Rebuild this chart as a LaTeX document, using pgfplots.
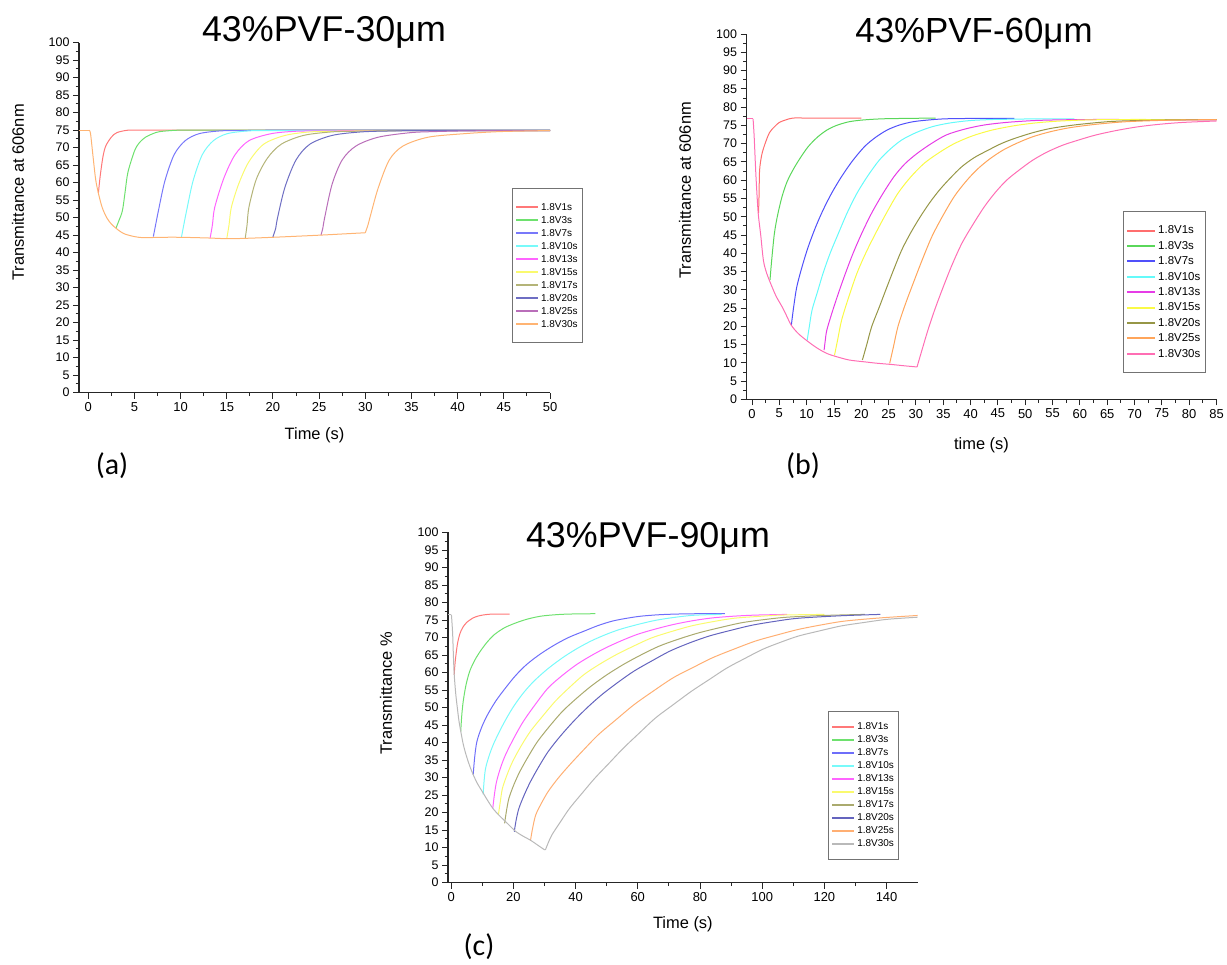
\documentclass[border=0pt]{standalone}
\usepackage{pgfplots}
\pgfplotsset{compat=1.18}
\usepackage{fontspec}
\setmainfont{Liberation Sans}
\newfontfamily\calfont{Carlito}
\newcommand{\fsz}[1]{\fontsize{#1}{#1}\selectfont}
% panel (a)
\definecolor{aR}{RGB}{255,120,120}\definecolor{aG}{RGB}{110,225,110}
\definecolor{aB}{RGB}{120,120,250}\definecolor{aC}{RGB}{120,250,250}
\definecolor{aM}{RGB}{255,100,255}\definecolor{aY}{RGB}{250,250,110}
\definecolor{aO}{RGB}{180,180,120}\definecolor{aN}{RGB}{110,110,195}
\definecolor{aP}{RGB}{185,110,185}\definecolor{aOr}{RGB}{255,180,115}
% panel (b)
\definecolor{bR}{RGB}{255,110,110}\definecolor{bG}{RGB}{90,215,90}
\definecolor{bB}{RGB}{80,80,250}\definecolor{bC}{RGB}{100,250,250}
\definecolor{bM}{RGB}{230,60,230}\definecolor{bY}{RGB}{250,250,70}
\definecolor{bO}{RGB}{150,150,70}\definecolor{bOr}{RGB}{255,165,90}
\definecolor{bP}{RGB}{255,110,180}
% panel (c)
\definecolor{cR}{RGB}{255,120,120}\definecolor{cG}{RGB}{110,225,110}
\definecolor{cB}{RGB}{110,110,250}\definecolor{cC}{RGB}{120,250,250}
\definecolor{cM}{RGB}{255,100,255}\definecolor{cY}{RGB}{250,250,110}
\definecolor{cO}{RGB}{170,170,110}\definecolor{cN}{RGB}{100,100,190}
\definecolor{cOr}{RGB}{255,175,115}\definecolor{cGr}{RGB}{185,185,185}
\pgfplotsset{
  panel/.style={
    scale only axis,
    axis lines=left,
    axis line style={-, line width=1.1bp, black!85},
    tick align=outside,
    major tick length=6bp,
    minor tick length=3.5bp,
    every tick/.style={black!85, line width=0.9bp},
    ymin=0, ymax=100, ytick={0,5,...,100}, minor y tick num=1,
    minor x tick num=1,
    /pgf/number format/assume math mode=true,
    xticklabel style={font=\fsz{13}},
    yticklabel style={font=\fsz{12.5}},
    label style={font=\fsz{16.5}},
    every axis plot/.append style={line width=1bp, line join=round},
    legend cell align=left,
    legend style={draw=black!55, line width=1bp, anchor=north west, inner xsep=3bp},
  },
  legA/.style={
    legend image code/.code={\draw[##1, line width=1.8bp] (0bp,0bp) -- (22bp,0bp);},
    legend style={font=\fsz{10}, inner ysep=12bp,
      nodes={text height=7.5bp, text depth=1.5bp, inner ysep=2bp, inner xsep=2bp}},
  },
  legB/.style={
    legend image code/.code={\draw[##1, line width=2bp] (0bp,0bp) -- (28bp,0bp);},
    legend style={font=\fsz{11.5}, inner ysep=11.3bp,
      nodes={text height=8.5bp, text depth=1.9bp, inner ysep=2.5bp, inner xsep=2bp}},
  },
}
\begin{document}
\begin{tikzpicture}
\path[use as bounding box] (0,0) rectangle (1227bp,965bp);
% ---------------- (a) ----------------
\begin{axis}[panel, legA,
  at={(79bp,572.3bp)}, anchor=south west, width=471bp, height=350bp,
  xmin=-1, xmax=50, xtick={0,5,...,50},
  xlabel={Time (s)}, ylabel={Transmittance at 606nm},
  xlabel style={at={(axis description cs:0.5,-0.121)}, anchor=center},
  ylabel style={at={(axis description cs:-0.1295,0.572)}, anchor=center},
  legend style={at={(axis description cs:0.9187,0.584)}}]
\addplot[aR, smooth] coordinates {(1.1,57) (1.3,62) (1.6,67.5) (1.9,70.5) (2.5,73) (3.1,74.3) (4.3,75) (6,75) (9,75) (14,75) (22,75) (32,75) (50,75)};
\addlegendentry{1.8V1s}
\addplot[aG, smooth] coordinates {(3,47) (3.3,49) (3.7,52) (4,57.5) (4.3,63) (5,69) (5.5,71.3) (6.2,73) (7,74) (7.75,74.6) (9.7,75) (12,75) (16,75) (22,75) (32,75) (50,75)};
\addlegendentry{1.8V3s}
\addplot[aB, smooth] coordinates {(7.05,44.6) (7.3,48) (7.6,52) (8.3,60.5) (9.3,68) (10.5,72) (12,74) (14.3,74.8) (17,74.9) (20,75) (25,75) (32,75) (40,75) (50,75)};
\addlegendentry{1.8V7s}
\addplot[aC, smooth] coordinates {(10.1,44.5) (10.35,48) (10.65,52) (11.35,60.5) (12.35,68) (13.55,72) (15.05,74) (17.35,74.8) (20,74.9) (23,74.9) (28,74.9) (35,74.9) (42,74.9) (50,74.9)};
\addlegendentry{1.8V10s}
\addplot[aM, smooth] coordinates {(13.2,44.2) (13.45,48) (13.7,53) (14.7,61.4) (15.9,68) (17.4,72) (19.8,74) (22.5,74.7) (25.5,74.8) (30,74.9) (35,74.9) (42,74.9) (50,74.9)};
\addlegendentry{1.8V13s}
\addplot[aY, smooth] coordinates {(15,44) (15.25,48) (15.5,53) (16.3,59.7) (17.4,66) (19,71) (21.3,73.5) (24,74.5) (27,74.7) (30,74.8) (35,74.9) (42,74.9) (50,74.9)};
\addlegendentry{1.8V15s}
\addplot[aO, smooth] coordinates {(17,44.1) (17.2,48) (17.4,53) (18.2,61) (19.4,67) (20.9,71) (23.3,73.5) (26.3,74.5) (29,74.7) (32,74.8) (36,74.9) (42,74.9) (50,74.9)};
\addlegendentry{1.8V17s}
\addplot[aN, smooth] coordinates {(20,44.5) (20.3,47) (20.5,50) (21.3,58.7) (22.5,66.5) (24,71) (26.4,73.5) (29.5,74.5) (33,74.8) (37,74.9) (43,74.9) (50,74.9)};
\addlegendentry{1.8V20s}
\addplot[aP, smooth] coordinates {(25.2,45) (25.4,47) (25.6,50) (26.4,59.5) (27.5,66.5) (29,70.5) (31.4,73) (34.9,74.3) (37.5,74.6) (40.7,74.8) (45,74.9) (50,74.9)};
\addlegendentry{1.8V25s}
\addplot[aOr, smooth] coordinates {(30,45.7) (30.3,48) (30.6,51) (31.4,58.5) (32.6,66.5) (34.1,70.5) (36.8,73) (40.7,74) (44.6,74.6) (50,74.9)};
\addlegendentry{1.8V30s}
\addplot[aOr, forget plot] coordinates {(-1,75) (0.1,75)};
\addplot[aOr, smooth, forget plot] coordinates {(0.1,75) (0.25,74) (0.5,68) (0.8,61) (1.1,57) (1.5,53) (2,50) (2.5,48.2) (3,47) (3.5,46) (4,45.3) (5,44.6) (6,44.3) (8,44.4) (10,44.4) (13,44.2) (15,44.0) (17,44.1) (20,44.4) (25,45.0) (30,45.7)};
\end{axis}
% ---------------- (b) ----------------
\begin{axis}[panel, legB,
  at={(746.5bp,565.5bp)}, anchor=south west, width=470bp, height=365.5bp,
  xmin=-1, xmax=85, xtick={0,5,...,85},
  xlabel={time (s)}, ylabel={Transmittance at 606nm},
  xlabel style={at={(axis description cs:0.5,-0.1245)}, anchor=center},
  ylabel style={at={(axis description cs:-0.131,0.572)}, anchor=center},
  legend style={at={(axis description cs:0.8004,0.5157)}}]
\addplot[bR, smooth] coordinates {(1.2,51) (1.3,56) (1.4,62.8) (1.8,67) (2.4,70) (3.2,73) (4.1,74.6) (5,75.8) (6.2,76.5) (7.5,77) (10,77) (14,77) (20,77)};
\addlegendentry{1.8V1s}
\addplot[bG, smooth] coordinates {(3.3,32.7) (3.6,38) (4.1,45.4) (4.7,50.5) (5.5,55.5) (6.4,59.5) (7.5,62.8) (8.8,66) (10.3,69.2) (12,71.8) (13.7,73.7) (15.5,75) (17.8,76) (20.5,76.5) (24,76.8) (28,76.9) (33.6,77)};
\addlegendentry{1.8V3s}
\addplot[bB, smooth] coordinates {(7.2,20.3) (7.6,25) (8.2,30.8) (9.2,36.5) (10.3,41.8) (11.6,47) (13,51.8) (14.6,56.5) (16.4,61) (18.4,65.3) (20.6,69.2) (22.6,71.7) (24.7,73.7) (27,75.1) (29.5,76) (32.5,76.5) (35.6,76.8) (41,76.9) (48,76.9)};
\addlegendentry{1.8V7s}
\addplot[bC, smooth] coordinates {(10.1,16.2) (10.5,20) (11,24.5) (12,29.5) (13,34.5) (14.3,40) (15.8,45.4) (17.4,51) (19.2,56.4) (21.2,61.2) (23.3,65.5) (25.3,68.5) (27.4,71) (30,73) (32.9,74.6) (36,75.6) (39.8,76.3) (44,76.6) (48,76.7) (53,76.8) (59,76.8)};
\addlegendentry{1.8V10s}
\addplot[bM, smooth] coordinates {(13.2,13.5) (13.4,16) (13.7,19) (14.7,24) (15.8,29) (17.1,34.5) (18.5,40) (20.1,45.5) (21.9,51) (23.9,56.2) (26,61) (28,64.5) (30.2,67.3) (32.8,70) (35.6,72.4) (39,74) (42.5,75.1) (46.5,75.8) (51.4,76.3) (56,76.5) (61.7,76.6) (68,76.6) (76,76.5) (85,76.5)};
\addlegendentry{1.8V13s}
\addplot[bY, smooth] coordinates {(15.1,12.1) (15.7,16.5) (16.4,21.7) (17.7,28) (19.2,34.5) (20.8,40) (22.6,45.4) (24.6,51) (26.7,56.4) (29,60.8) (31.5,64.6) (34.2,67.5) (37,70) (40.3,72.1) (43.9,73.7) (48,74.9) (52.1,75.7) (56.5,76.2) (61.7,76.5) (68,76.6) (76,76.6) (85,76.6)};
\addlegendentry{1.8V15s}
\addplot[bO, smooth] coordinates {(20.2,10.8) (21,15) (21.9,19.9) (23.3,25.3) (24.7,30.8) (26,35.8) (27.4,40.9) (29,45.5) (30.8,50) (32.5,53.8) (34.3,57.3) (36.3,60.6) (38.4,63.7) (40.7,66.2) (43.2,68.2) (45.6,70) (48,71.4) (51.4,73) (54.8,74.2) (59.5,75.2) (65.1,76) (70,76.3) (77,76.5) (85,76.6)};
\addlegendentry{1.8V20s}
\addplot[bOr, smooth] coordinates {(25.2,9.9) (25.9,14.5) (26.7,19.9) (28,25.8) (29.5,31.8) (31.1,38) (32.9,44.5) (34.9,50.2) (37,55.5) (39,59.4) (41.1,62.8) (43.4,65.7) (45.9,68.2) (48.6,70.2) (51.4,71.9) (54.7,73.3) (58.3,74.4) (63,75.3) (68.5,76) (76,76.4) (85,76.6)};
\addlegendentry{1.8V25s}
\addplot[bP, smooth] coordinates {(30.2,8.9) (31.2,14) (32.2,19) (33.5,24.8) (35,30.8) (36.6,36.8) (38.4,42.7) (40.4,47.8) (42.5,52.7) (44.5,56.6) (46.6,60) (49,62.9) (51.4,65.5) (54,67.7) (56.9,69.6) (60,71.1) (63,72.4) (66.7,73.6) (70.6,74.6) (74.6,75.3) (78.8,75.8) (85,76.2)};
\addlegendentry{1.8V30s}
\addplot[bP, forget plot] coordinates {(-1,76.8) (0.2,76.8)};
\addplot[bP, smooth, forget plot] coordinates {(0.2,76.8) (0.4,72) (0.7,62) (1,54) (1.2,50) (1.6,45) (2.1,38) (2.7,34.5) (3.4,31.8) (4.4,28.3) (5.5,25.4) (6.3,23) (7.2,20.3) (8.5,18) (10.3,15.8) (12,14) (13.7,12.6) (15.5,11.7) (17.8,10.8) (20.6,10.3) (23,9.9) (25.4,9.6) (28,9.2) (30.2,8.9)};
\end{axis}
% ---------------- (c) ----------------
\begin{axis}[panel, legA,
  at={(448bp,82.5bp)}, anchor=south west, width=469.7bp, height=350bp,
  xmin=-1, xmax=150, xtick={0,20,...,140},
  xlabel={Time (s)}, ylabel={Transmittance \%},
  xlabel style={at={(axis description cs:0.5,-0.12)}, anchor=center},
  ylabel style={at={(axis description cs:-0.132,0.541)}, anchor=center},
  legend style={at={(axis description cs:0.809,0.491)}, inner ysep=9.3bp}]
\addplot[cR, smooth] coordinates {(1,59.4) (1.3,63) (2,68) (2.8,71) (3.7,72.8) (5,74.3) (7.1,75.6) (9,76.2) (11.7,76.6) (15,76.7) (18.8,76.7)};
\addlegendentry{1.8V1s}
\addplot[cG, smooth] coordinates {(3.1,43.2) (3.4,47.5) (3.9,51.8) (4.8,56.5) (6,60.4) (7.6,63.5) (9.4,66.1) (11.6,68.7) (14,70.9) (17.2,72.8) (20.9,74.2) (24.7,75.3) (28.9,76.1) (33.5,76.5) (38.1,76.7) (46.4,76.8)};
\addlegendentry{1.8V3s}
\addplot[cB, smooth] coordinates {(7.1,30.8) (7.6,36) (8.3,40.3) (9.8,44.3) (11.7,47.9) (14.4,51.9) (17.5,55.6) (20.7,59.1) (24.3,62.3) (28.7,65.3) (33.5,68) (38,70.1) (42.7,71.8) (47.2,73.4) (51.9,74.7) (56.5,75.5) (61.1,76.1) (66.8,76.5) (72.6,76.7) (80,76.8) (88,76.8)};
\addlegendentry{1.8V7s}
\addplot[cC, smooth] coordinates {(10.3,25.2) (10.6,29) (11.1,32.7) (12.4,36.7) (14,40.3) (16.8,45.3) (19.8,49.9) (23,53.9) (26.6,57.5) (31,61) (35.8,64.2) (40.4,66.8) (45,69) (49.6,70.8) (54.2,72.3) (59.9,73.7) (65.7,74.9) (71.4,75.7) (77.2,76.3) (82,76.5) (87,76.6)};
\addlegendentry{1.8V10s}
\addplot[cM, smooth] coordinates {(13.4,21.2) (13.9,25) (14.6,28.8) (15.9,32.8) (17.5,36.5) (20.2,41.3) (23.2,46) (27,50.8) (31.2,55.6) (35.8,59.2) (40.4,62.3) (45,64.8) (49.6,67) (54.8,69.1) (59.9,70.9) (65.6,72.4) (71.4,73.7) (77.7,74.8) (84,75.6) (91,76.1) (97.9,76.4) (108,76.6)};
\addlegendentry{1.8V13s}
\addplot[cY, smooth] coordinates {(15.2,19.3) (15.8,23) (16.5,26.9) (18,30.8) (19.8,34.6) (22.5,39) (25.5,43.2) (29.4,47.5) (33.5,51.8) (38,55.7) (42.7,59.4) (47.8,62.4) (53.1,65.1) (58.8,67.6) (64.5,69.9) (70.8,71.7) (77.2,73.3) (84,74.5) (91,75.5) (98.5,76) (105.9,76.4) (120,76.6)};
\addlegendentry{1.8V15s}
\addplot[cO, smooth] coordinates {(17.2,16.9) (17.8,20.5) (18.6,24.1) (20.2,28) (22.1,31.7) (24.8,36) (27.8,40.3) (31.7,44.7) (35.8,48.9) (40.3,52.6) (45,56.1) (50,59.3) (55.4,62.3) (61,65) (66.8,67.5) (73,69.5) (79.5,71.3) (86.3,72.8) (93.3,74.2) (100.5,75.1) (108,75.8) (120,76.3) (133,76.6)};
\addlegendentry{1.8V17s}
\addplot[cN, smooth] coordinates {(20.3,14.5) (20.9,17.8) (21.8,21.2) (23.5,25) (25.5,28.8) (28.2,33.1) (31.2,37.4) (35,41.7) (39.3,46) (43.8,50) (48.5,53.7) (53.5,57.1) (58.8,60.4) (64.5,63.3) (70.3,66.1) (76.5,68.4) (82.9,70.4) (89.7,72) (96.7,73.5) (104,74.6) (111.6,75.5) (125,76.2) (138,76.6)};
\addlegendentry{1.8V20s}
\addplot[cOr, smooth] coordinates {(25.5,11.9) (26.2,15.5) (27.2,19.3) (29,22.6) (31.2,26) (34.4,29.8) (38.1,33.6) (42.6,37.9) (47.3,42.2) (53,46.5) (58.8,50.8) (65,54.7) (71.4,58.5) (77.7,61.4) (84,64.2) (91,66.7) (97.9,69) (104.7,70.7) (111.6,72.3) (119,73.6) (126.6,74.7) (138,75.6) (150,76.3)};
\addlegendentry{1.8V25s}
\addplot[cGr, smooth] coordinates {(30.3,9.3) (31.3,11.5) (32.4,13.6) (35.2,17.4) (38.1,21.2) (42.1,25.5) (46.2,29.8) (50.8,34.1) (55.4,38.4) (60.5,42.7) (65.7,47) (71.4,50.8) (77.2,54.6) (83,58) (88.7,61.3) (94.4,64) (100.1,66.6) (105.8,68.6) (111.6,70.4) (118.5,71.9) (125.4,73.3) (132.8,74.3) (140.3,75.2) (150,75.8)};
\addlegendentry{1.8V30s}
\addplot[cGr, forget plot] coordinates {(-1,76.5) (0.1,76.5)};
\addplot[cGr, smooth, forget plot] coordinates {(0.1,76.5) (0.3,74) (0.5,70.9) (0.75,64.5) (1,59.4) (1.5,53.8) (2,49.9) (2.5,46.3) (3.1,43.2) (3.9,39.5) (4.8,36.5) (5.9,33.5) (7.1,30.8) (8.5,28.2) (10,26) (11.7,23.5) (13.4,21.2) (15.4,19.2) (17.5,17.4) (19.2,15.9) (20.9,14.5) (23.2,13.2) (25.5,12.1) (27.8,10.7) (30.1,9.3)};
\end{axis}
% titles and panel labels
\node[anchor=base, font=\fsz{36}] at (324bp,923.3bp) {43\%PVF-30μm};
\node[anchor=base, font=\fsz{35}] at (974bp,922bp) {43\%PVF-60μm};
\node[anchor=base, font=\fsz{36}] at (648bp,417bp) {43\%PVF-90μm};
\node[font=\calfont\fsz{30}] at (112bp,499bp) {(a)};
\node[font=\calfont\fsz{30}] at (803bp,499bp) {(b)};
\node[font=\calfont\fsz{30}] at (479bp,18bp) {(c)};
\end{tikzpicture}
\end{document}
